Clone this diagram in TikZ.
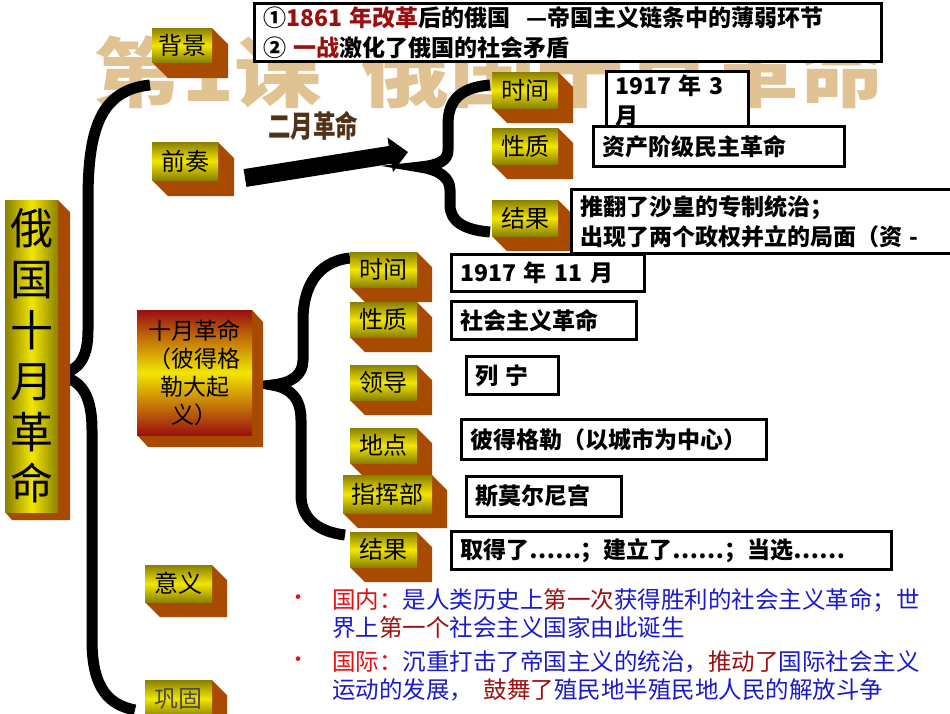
\documentclass[tikz,border=0pt]{standalone}
\usepackage{fontspec}
\setmainfont{Noto Sans CJK SC}
\usetikzlibrary{arrows.meta}
\definecolor{sideb}{HTML}{A84A00}
\definecolor{olive}{HTML}{8A8000}
\definecolor{yel}{HTML}{F2E600}
\definecolor{dred}{HTML}{9A1010}
\definecolor{tblue}{HTML}{1A1ACC}
\definecolor{tred}{HTML}{E81010}
\definecolor{gold}{HTML}{D8B070}
\tikzset{
 front/.style={inner sep=0pt, anchor=north west, top color=olive, bottom color=olive, middle color=yel, font=\fontsize{24pt}{26pt}\selectfont, text=black},
 tb/.style={draw=black, line width=2.5pt, fill=white, anchor=north west, inner xsep=9pt, inner ysep=3pt, font=\bfseries\fontsize{23pt}{30pt}\selectfont, align=left},
 brace/.style={line width=11pt},
 bl/.style={anchor=west, inner sep=0pt, font=\fontsize{23.5pt}{26pt}\selectfont, text=tblue}
}
\newcommand\blk[7]{%
 \fill[sideb] (#2+#4,#3) -- (#2+#4+#6,#3+#6) -- (#2+#4+#6,#3+#5+#6) -- (#2+#6,#3+#5+#6) -- (#2,#3+#5) -- cycle;
 \node[front, minimum width=#4pt, minimum height=#5pt] (#1) at (#2,#3) {#7};
}
\newcommand\tbx[6]{%
 \node[tb, text width=#4pt-23pt, minimum height=#5pt] (#1) at (#2,#3) {#6};
}
\begin{document}
\begin{tikzpicture}[x=1pt,y=-1pt]
\useasboundingbox (0,0) rectangle (950,713);
\fill[white] (0,0) rectangle (950,713);
% background word art
\node[text=gold, font=\bfseries\fontsize{76pt}{76pt}\selectfont, opacity=0.75, xscale=1.15] (bgtitle) at (490,72) {第1课\ \ 俄国十月革命};
% braces
\draw[brace] (150,85) .. controls (100,90) and (88,130) .. (88,200) -- (88,330) .. controls (88,360) and (78,372) .. (55,375) .. controls (78,378) and (92,390) .. (92,430) -- (92,640) .. controls (92,690) and (110,705) .. (135,710);
\draw[brace] (490,85) .. controls (455,88) and (448,105) .. (448,125) -- (448,150) .. controls (448,160) and (440,165) .. (420,167) .. controls (440,170) and (450,178) .. (450,190) -- (450,205) .. controls (450,222) and (465,230) .. (490,232);
\draw[brace] (350,258) .. controls (315,262) and (303,290) .. (303,320) -- (303,360) .. controls (303,375) and (292,383) .. (272,385) .. controls (292,388) and (301,400) .. (301,420) -- (301,495) .. controls (301,520) and (320,532) .. (345,535);
% arrow
\coordinate (aS) at (245,178);
\coordinate (aE) at (408,152);
\draw[line width=18pt, -{Triangle[length=18pt,width=34pt]}] (aS) -- (aE);
\node[text=white, font=\bfseries\fontsize{32pt}{32pt}\selectfont, xscale=0.75] (feb0) at (313,126) {二月革命};
\node[text={rgb,255:red,80;green,50;blue,25}, font=\bfseries\fontsize{30pt}{30pt}\selectfont, xscale=0.75] (feb) at (313,126) {二月革命};
% blocks
\blk{bj}{152}{28}{60}{34}{16}{背景}
\blk{qz}{152}{142}{66}{38}{16}{前奏}
\fill[sideb] (58,200) -- (70,212) -- (70,520) -- (12,520) -- (5,512) -- cycle;
\node[front, minimum width=53pt, minimum height=312pt, left color=olive, right color=olive, middle color=yel, font=\fontsize{43pt}{51pt}\selectfont, align=center] (main) at (5,200) {俄\\国\\十\\月\\革\\命};
\blk{t1}{492}{72}{66}{36}{15}{时间}
\blk{x1}{492}{128}{66}{36}{15}{性质}
\blk{j1}{492}{200}{66}{36}{15}{结果}
\blk{t2}{350}{252}{67}{35}{15}{时间}
\blk{x2}{350}{302}{67}{35}{15}{性质}
\blk{ld}{350}{365}{67}{35}{15}{领导}
\blk{dd}{350}{428}{67}{35}{15}{地点}
\blk{zh}{343}{475}{89}{38}{15}{指挥部}
\blk{j2}{350}{532}{67}{35}{15}{结果}
\blk{yy}{145}{565}{67}{37}{15}{意义}
\blk{gg}{145}{680}{67}{37}{15}{\textcolor{gray!60!black}{巩固}}
\fill[sideb] (252,310) -- (263,322) -- (263,447) -- (148,447) -- (137,435) -- cycle;
\node[front, minimum width=115pt, minimum height=125pt, top color=dred, bottom color=dred, middle color=yel, align=center, font=\fontsize{23pt}{28pt}\selectfont] (sy) at (137,310) {十月革命\\（彼得格\\勒大起\\义）};
% text boxes
\tbx{bgtxt}{253}{2}{632}{58}{①\textcolor{dred}{1861 年改革}后的俄国\ \ —帝国主义链条中的薄弱环节\\② \textcolor{dred}{一战}激化了俄国的社会矛盾}
\tbx{t1v}{605}{70}{147}{58}{1917 年 3\\月}
\tbx{x1v}{592}{125}{256}{40}{资产阶级民主革命}
\tbx{j1v}{570}{188}{400}{64}{推翻了沙皇的专制统治；\\出现了两个政权并立的局面（资 -}
\tbx{t2v}{450}{253}{198}{37}{1917 年 11 月}
\tbx{x2v}{450}{300}{190}{38}{社会主义革命}
\tbx{ldv}{465}{355}{97}{38}{列\ 宁}
\tbx{ddv}{460}{418}{310}{40}{彼得格勒（以城市为中心）}
\tbx{zhv}{465}{475}{160}{40}{斯莫尔尼宫}
\tbx{j2v}{450}{530}{445}{38}{取得了……；建立了……；当选……}
% bottom text
\node[text=tred, font=\fontsize{22pt}{22pt}\selectfont] (b1) at (298,600) {•};
\node[text=tred, font=\fontsize{22pt}{22pt}\selectfont] (b2) at (298,662) {•};
\node[bl] (l1) at (332,600) {\textcolor{tred}{国内：}是人类历史上\textcolor{dred}{第一次}获得胜利的社会主义革命；世};
\node[bl] (l2) at (332,628) {界上\textcolor{dred}{第一个}社会主义国家由此诞生};
\node[bl] (l3) at (332,662) {\textcolor{tred}{国际：}沉重打击了帝国主义的统治，\textcolor{dred}{推动了}国际社会主义};
\node[bl] (l4) at (332,690) {运动的发展，\ \ \textcolor{dred}{鼓舞了}殖民地半殖民地人民的解放斗争};
\end{tikzpicture}
\end{document}
